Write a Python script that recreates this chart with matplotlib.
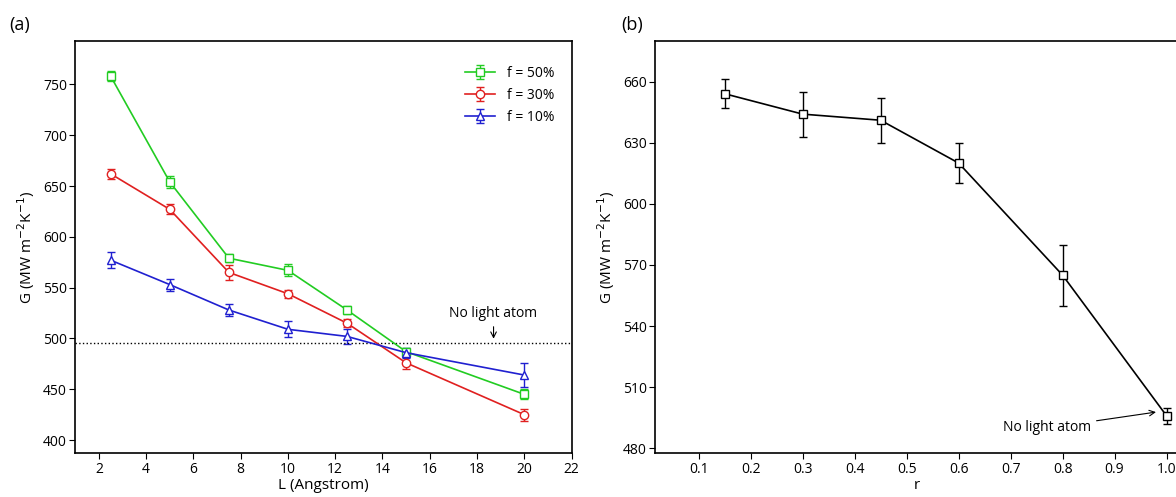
import matplotlib
matplotlib.use("Agg")
import matplotlib.pyplot as plt

plt.rcParams['font.family'] = ['Open Sans', 'DejaVu Sans']
plt.rcParams['font.size'] = 10

L = [2.5, 5, 7.5, 10, 12.5, 15, 20]
g50 = [758, 654, 579, 567, 528, 487, 445]
e50 = [5, 6, 4, 6, 4, 4, 5]
g30 = [662, 627, 565, 544, 515, 476, 425]
e30 = [5, 5, 7, 4, 4, 6, 6]
g10 = [577, 553, 528, 509, 502, 486, 464]
e10 = [8, 6, 6, 8, 7, 5, 12]
ref_G = 496

r = [0.15, 0.3, 0.45, 0.6, 0.8, 1.0]
Gr = [654, 644, 641, 620, 565, 496]
er = [7, 11, 11, 10, 15, 4]

fig = plt.figure(figsize=(11.76, 4.97), dpi=100)
ax1 = fig.add_axes([0.064, 0.088, 0.422, 0.83])
ax2 = fig.add_axes([0.557, 0.088, 0.446, 0.83])

kw = dict(mfc='white', ms=6, capsize=3, lw=1.2, elinewidth=1)
ax1.errorbar(L, g50, yerr=e50, color='#22cc22', marker='s', label='f = 50%', **kw)
ax1.errorbar(L, g30, yerr=e30, color='#e02020', marker='o', label='f = 30%', **kw)
ax1.errorbar(L, g10, yerr=e10, color='#2020d0', marker='^', label='f = 10%', **kw)
ax1.axhline(ref_G, color='black', ls=':', lw=1)
ax1.annotate('No light atom', xy=(18.7, ref_G + 1), xytext=(18.7, 517), ha='center',
             va='bottom', arrowprops=dict(arrowstyle='->', color='black', lw=0.8))
ax1.set_xlim(1, 22)
ax1.set_ylim(387, 793)
ax1.set_xticks(range(2, 23, 2))
ax1.set_yticks(range(400, 751, 50))
ax1.set_xlabel('L (Angstrom)', fontsize=11, labelpad=1)
ax1.set_ylabel(r'G (MW m$^{-2}$K$^{-1}$)', fontsize=11)
ax1.legend(loc='upper right', frameon=False, fontsize=10, handlelength=2.2,
           bbox_to_anchor=(0.99, 0.97))

ax2.errorbar(r, Gr, yerr=er, color='black', marker='s', **kw)
ax2.annotate('No light atom', xy=(0.985, 498), xytext=(0.77, 490), ha='center',
             va='center', arrowprops=dict(arrowstyle='->', color='black', lw=0.8))
ax2.set_xlim(0.016, 1.025)
ax2.set_ylim(477.6, 680)
ax2.set_xticks([0.1, 0.2, 0.3, 0.4, 0.5, 0.6, 0.7, 0.8, 0.9, 1.0])
ax2.set_yticks(range(480, 661, 30))
ax2.set_xlabel('r', fontsize=11, labelpad=1)
ax2.set_ylabel(r'G (MW m$^{-2}$K$^{-1}$)', fontsize=11)

for ax in (ax1, ax2):
    ax.tick_params(direction='out', length=4, labelsize=10, pad=2)
    for s in ax.spines.values():
        s.set_linewidth(1.2)

fig.text(0.008, 0.94, '(a)', fontsize=13)
fig.text(0.528, 0.94, '(b)', fontsize=13)
fig.savefig('out.png', dpi=100)
